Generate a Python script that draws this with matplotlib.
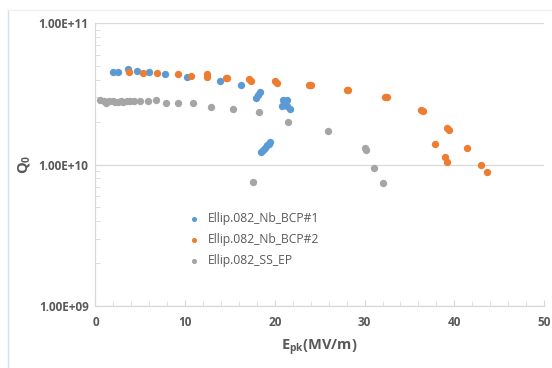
import matplotlib
matplotlib.use("Agg")
import matplotlib.pyplot as plt
from matplotlib.ticker import FixedLocator, MultipleLocator, LogLocator, NullFormatter
from matplotlib.lines import Line2D

plt.rcParams['font.family'] = ['Open Sans', 'DejaVu Sans']

# Ellip.082_Nb_BCP#1
bcp1_x = [1.9, 2.5, 3.6, 4.6, 6.0, 7.7, 10.2, 13.9, 16.2,
          17.9, 18.1, 18.3,
          18.5, 18.7, 18.9, 19.1, 19.3, 19.4,
          20.8, 20.9, 21.1, 21.3, 21.4, 21.7]
bcp1_q = [4.5e10, 4.5e10, 4.75e10, 4.6e10, 4.55e10, 4.4e10, 4.2e10, 3.9e10, 3.65e10,
          2.95e10, 3.1e10, 3.28e10,
          1.23e10, 1.27e10, 1.32e10, 1.37e10, 1.41e10, 1.45e10,
          2.6e10, 2.87e10, 2.74e10, 2.87e10, 2.6e10, 2.48e10]

# Ellip.082_Nb_BCP#2
bcp2_x = [3.7, 5.3, 6.9, 9.2, 10.6, 12.4, 12.4, 14.5, 14.7, 17.1, 17.3,
          20.0, 20.2, 23.8, 24.0, 28.0, 28.2, 32.3, 32.5, 36.3, 36.5,
          39.2, 39.4, 37.9, 41.4, 39.0, 39.2, 43.0, 43.7]
bcp2_q = [4.55e10, 4.45e10, 4.47e10, 4.37e10, 4.25e10, 4.35e10, 4.15e10, 4.1e10, 4.1e10,
          4.02e10, 3.94e10, 3.9e10, 3.76e10, 3.64e10, 3.68e10, 3.36e10, 3.4e10,
          3.02e10, 3.0e10, 2.43e10, 2.39e10, 1.83e10, 1.77e10,
          1.4e10, 1.32e10, 1.13e10, 1.05e10, 1.0e10, 8.86e9]

# Ellip.082_SS_EP
ss_x = [0.5, 0.9, 1.2, 1.5, 1.9, 2.2, 2.5, 2.8, 3.1, 3.5, 3.8, 4.3, 5.0, 5.8,
        6.7, 7.9, 9.2, 10.9, 12.9, 15.3, 17.6, 18.2, 21.5, 25.9, 30.0, 30.2,
        31.1, 32.0]
ss_q = [2.85e10, 2.8e10, 2.72e10, 2.8e10, 2.82e10, 2.78e10, 2.78e10, 2.8e10,
        2.78e10, 2.8e10, 2.84e10, 2.82e10, 2.84e10, 2.84e10, 2.85e10, 2.75e10,
        2.72e10, 2.72e10, 2.56e10, 2.48e10, 7.6e9, 2.35e10, 2.02e10, 1.73e10,
        1.32e10, 1.27e10, 9.55e9, 7.4e9]

y_ticks = [1e9, 1e10, 1e11]
y_labels = ["1.00E+09", "1.00E+10", "1.00E+11"]

text_col = "#595959"
axis_col = "#d9d9d9"

fig = plt.figure(figsize=(5.52, 3.68), dpi=100)
ax = fig.add_axes([0.173, 0.1685, 0.8125, 0.768])

ax.scatter(bcp1_x, bcp1_q, s=28, color="#5B9BD5", label="Ellip.082_Nb_BCP#1", zorder=3, linewidths=0)
ax.scatter(bcp2_x, bcp2_q, s=28, color="#ED7D31", label="Ellip.082_Nb_BCP#2", zorder=3, linewidths=0)
ax.scatter(ss_x, ss_q, s=28, color="#A5A5A5", label="Ellip.082_SS_EP", zorder=3, linewidths=0)

ax.set_yscale("log")
ax.set_ylim(1e9, 1e11)
ax.set_xlim(0, 50)
ax.yaxis.set_major_locator(FixedLocator(y_ticks))
ax.set_yticklabels(y_labels)
ax.yaxis.set_minor_locator(LogLocator(base=10, subs=range(2, 10)))
ax.yaxis.set_minor_formatter(NullFormatter())
ax.xaxis.set_major_locator(MultipleLocator(10))
ax.xaxis.set_minor_locator(MultipleLocator(2))

ax.grid(True, axis="y", which="major", color=axis_col, linewidth=0.9)
ax.set_axisbelow(True)
for side in ["top", "right"]:
    ax.spines[side].set_visible(False)
for side in ["left", "bottom"]:
    ax.spines[side].set_color(axis_col)
    ax.spines[side].set_linewidth(0.9)

ax.tick_params(axis="both", which="both", direction="in", color=axis_col, labelcolor=text_col,
               labelsize=8.5)
ax.tick_params(axis="both", which="major", length=4)
ax.tick_params(axis="both", which="minor", length=3.5)
for lbl in ax.get_xticklabels() + ax.get_yticklabels():
    lbl.set_fontweight("bold")
ax.tick_params(axis="x", pad=7)
ax.tick_params(axis="y", pad=5)

ax.set_xlabel("E$_{\\mathregular{pk}}$(MV/m)", fontsize=10.5, color=text_col, fontweight="bold", labelpad=6)
ax.set_ylabel("Q$_{\\mathregular{0}}$", fontsize=10.5, color=text_col, fontweight="bold", labelpad=4)

leg = ax.legend(loc="upper left", bbox_to_anchor=(0.18, 0.355), frameon=False, fontsize=8.7,
                handletextpad=0.1, labelspacing=0.68, markerscale=0.7, borderpad=0)
for t in leg.get_texts():
    t.set_color(text_col)

# faint chart-area border
fig.add_artist(Line2D([8 / 552, 8 / 552], [0, 1 - 10 / 368], transform=fig.transFigure,
                      color="#cfe0f3", linewidth=1.0))
fig.add_artist(Line2D([8 / 552, 1], [1 - 10 / 368, 1 - 10 / 368], transform=fig.transFigure,
                      color="#f0f0f0", linewidth=1.0))

fig.savefig("out.png", dpi=100)
plt.close(fig)
